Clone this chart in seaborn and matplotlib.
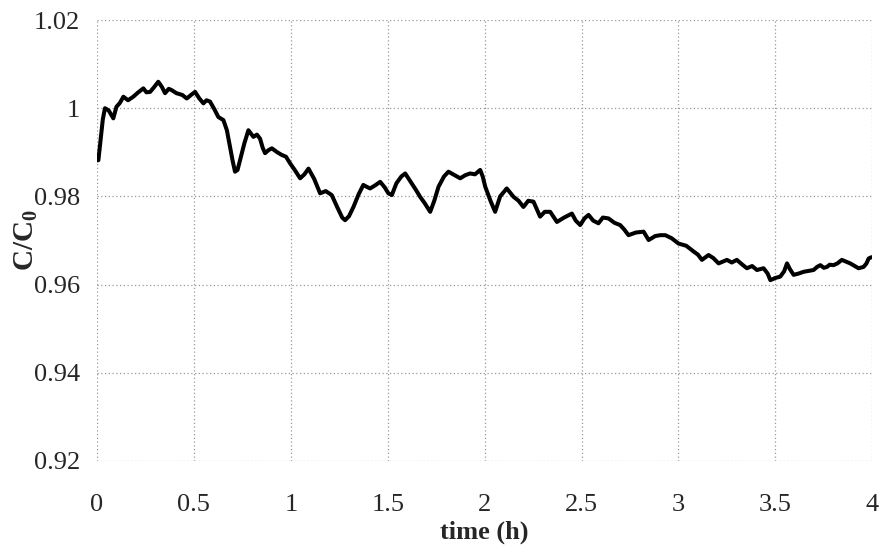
import matplotlib
matplotlib.use("Agg")
import matplotlib.pyplot as plt
import pandas as pd
import seaborn as sns

# Werte (Zeit in h, C/C0)
time_h = [
    0.000, 0.007, 0.020, 0.030, 0.041, 0.060, 0.084, 0.100, 0.118, 0.136,
    0.160, 0.187, 0.210, 0.239, 0.255, 0.274, 0.295, 0.316, 0.335, 0.351,
    0.370, 0.385, 0.410, 0.440, 0.463, 0.485, 0.506, 0.528, 0.549, 0.565,
    0.583, 0.605, 0.626, 0.652, 0.670, 0.686, 0.700, 0.712, 0.725, 0.738,
    0.760, 0.781, 0.795, 0.807, 0.825, 0.841, 0.855, 0.867, 0.885, 0.902,
    0.930, 0.953, 0.975, 0.996, 1.020, 1.048, 1.070, 1.091, 1.120, 1.151,
    1.180, 1.211, 1.240, 1.265, 1.280, 1.300, 1.323, 1.350, 1.374, 1.390,
    1.409, 1.435, 1.461, 1.485, 1.503, 1.521, 1.545, 1.570, 1.590, 1.624,
    1.645, 1.667, 1.690, 1.719, 1.740, 1.762, 1.790, 1.813, 1.845, 1.874,
    1.900, 1.925, 1.950, 1.977, 1.990, 2.003, 2.030, 2.054, 2.080, 2.114,
    2.149, 2.175, 2.200, 2.225, 2.252, 2.270, 2.286, 2.310, 2.338, 2.373,
    2.410, 2.450, 2.470, 2.493, 2.515, 2.536, 2.560, 2.587, 2.610, 2.639,
    2.670, 2.699, 2.720, 2.742, 2.780, 2.820, 2.846, 2.880, 2.906, 2.932,
    2.965, 3.000, 3.040, 3.078, 3.100, 3.121, 3.155, 3.180, 3.207, 3.250,
    3.275, 3.301, 3.330, 3.353, 3.380, 3.405, 3.439, 3.460, 3.474, 3.500,
    3.525, 3.545, 3.560, 3.575, 3.594, 3.620, 3.646, 3.670, 3.697, 3.715,
    3.732, 3.750, 3.766, 3.780, 3.800, 3.820, 3.843, 3.865, 3.886, 3.910,
    3.929, 3.955, 3.970, 3.981, 3.995,
]
c_ratio = [
    0.9882, 0.9882, 0.9935, 0.9975, 1.0000, 0.9995, 0.9977, 1.0003, 1.0012, 1.0026,
    1.0018, 1.0026, 1.0035, 1.0045, 1.0036, 1.0037, 1.0048, 1.0060, 1.0048, 1.0034,
    1.0044, 1.0041, 1.0034, 1.0030, 1.0022, 1.0030, 1.0037, 1.0022, 1.0011, 1.0018,
    1.0015, 0.9998, 0.9980, 0.9973, 0.9950, 0.9913, 0.9880, 0.9856, 0.9860, 0.9882,
    0.9920, 0.9950, 0.9942, 0.9935, 0.9940, 0.9931, 0.9910, 0.9898, 0.9905, 0.9909,
    0.9900, 0.9894, 0.9890, 0.9875, 0.9860, 0.9841, 0.9850, 0.9863, 0.9840, 0.9807,
    0.9812, 0.9803, 0.9775, 0.9752, 0.9746, 0.9755, 0.9776, 0.9805, 0.9826, 0.9822,
    0.9818, 0.9825, 0.9833, 0.9820, 0.9807, 0.9803, 0.9830, 0.9845, 0.9852, 0.9829,
    0.9815, 0.9799, 0.9785, 0.9765, 0.9790, 0.9822, 0.9845, 0.9856, 0.9848, 0.9841,
    0.9848, 0.9852, 0.9850, 0.9860, 0.9845, 0.9822, 0.9790, 0.9765, 0.9800, 0.9818,
    0.9799, 0.9790, 0.9776, 0.9790, 0.9788, 0.9770, 0.9754, 0.9765, 0.9765, 0.9742,
    0.9752, 0.9761, 0.9745, 0.9735, 0.9750, 0.9758, 0.9745, 0.9739, 0.9752, 0.9750,
    0.9740, 0.9735, 0.9725, 0.9712, 0.9718, 0.9720, 0.9701, 0.9710, 0.9712, 0.9712,
    0.9705, 0.9693, 0.9688, 0.9675, 0.9668, 0.9656, 0.9667, 0.9660, 0.9648, 0.9656,
    0.9650, 0.9656, 0.9645, 0.9637, 0.9642, 0.9633, 0.9637, 0.9625, 0.9610, 0.9615,
    0.9618, 0.9630, 0.9648, 0.9635, 0.9622, 0.9625, 0.9629, 0.9631, 0.9633, 0.9640,
    0.9644, 0.9638, 0.9640, 0.9645, 0.9644, 0.9648, 0.9656, 0.9652, 0.9648, 0.9642,
    0.9637, 0.9640, 0.9648, 0.9659, 0.9662,
]

x_ticks = [0, 0.5, 1, 1.5, 2, 2.5, 3, 3.5, 4]
x_tick_labels = ["0", "0.5", "1", "1.5", "2", "2.5", "3", "3.5", "4"]
y_ticks = [0.92, 0.94, 0.96, 0.98, 1.0, 1.02]
y_tick_labels = ["0.92", "0.94", "0.96", "0.98", "1", "1.02"]

sns.set_style("white")
plt.rcParams["font.family"] = ["Liberation Serif", "DejaVu Serif"]
plt.rcParams["mathtext.fontset"] = "custom"
plt.rcParams["mathtext.rm"] = "Liberation Serif"
plt.rcParams["mathtext.bf"] = "Liberation Serif:bold"
plt.rcParams["mathtext.default"] = "regular"

df = pd.DataFrame({"time": time_h, "c": c_ratio})

fig = plt.figure(figsize=(8.82, 5.56), dpi=100)
ax = fig.add_axes([0.110, 0.171, 0.879, 0.793])

sns.lineplot(data=df, x="time", y="c", ax=ax, color="black", linewidth=2.9)

ax.set_xlim(0, 4)
ax.set_ylim(0.92, 1.02)
ax.set_xticks(x_ticks)
ax.set_xticklabels(x_tick_labels)
ax.set_yticks(y_ticks)
ax.set_yticklabels(y_tick_labels)
ax.tick_params(axis="x", length=0, pad=24, labelsize=19)
ax.tick_params(axis="y", length=0, pad=12, labelsize=19)

for s in ax.spines.values():
    s.set_visible(False)
ax.grid(True, color="#999999", linestyle=(0, (1, 2)), linewidth=0.9)
ax.set_axisbelow(True)

ax.set_xlabel("time (h)", fontsize=19, fontweight="bold", labelpad=3)
ax.set_ylabel("C/C$_0$", fontsize=21, fontweight="bold", labelpad=-4)

fig.savefig("out.png", dpi=100)
